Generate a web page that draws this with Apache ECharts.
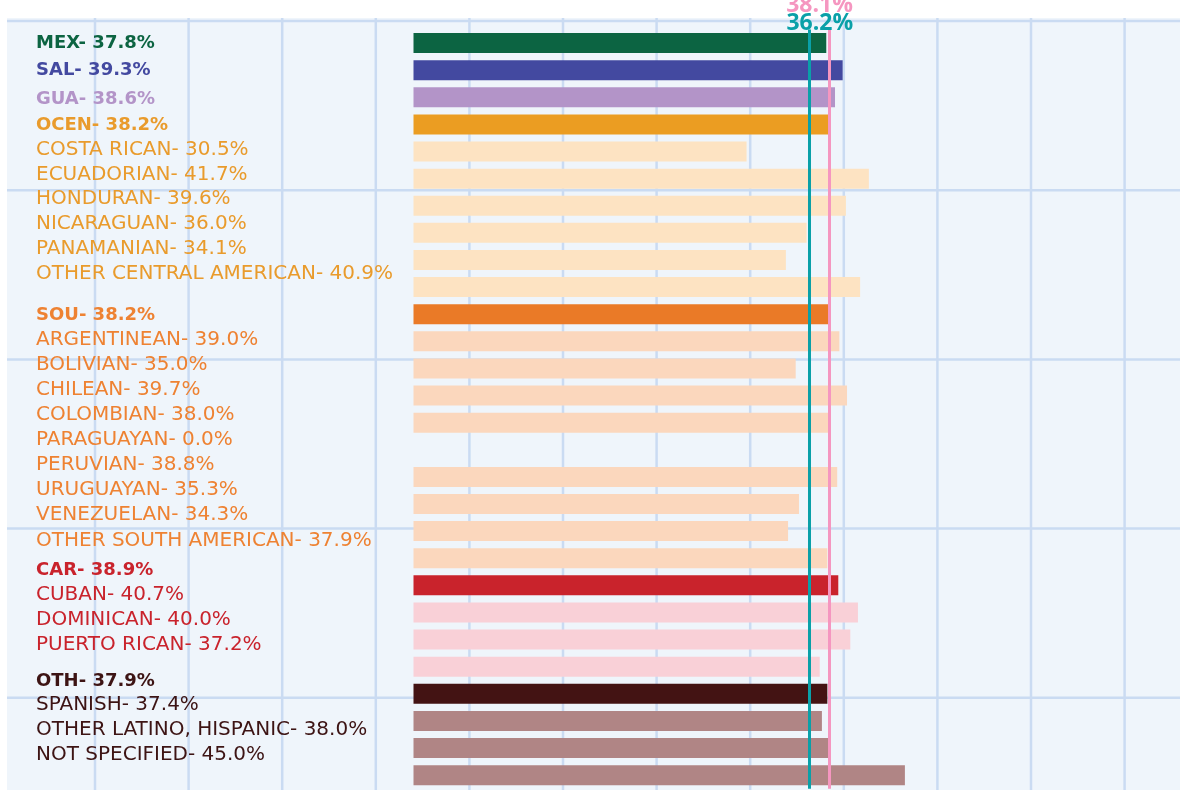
<!DOCTYPE html>
<html>
<head>
<meta charset="utf-8">
<script src="https://cdn.jsdelivr.net/npm/echarts@6/dist/echarts.min.js"></script>
<style>
html,body{margin:0;padding:0;background:#ffffff;}
#chart{width:1180px;height:790px;}
</style>
</head>
<body>
<div id="chart"></div>
<script>
// ---- data ----
const categories = ['MEX','SAL','GUA','OCEN','COSTA RICAN','ECUADORIAN','HONDURAN','NICARAGUAN','PANAMANIAN','OTHER CENTRAL AMERICAN',
  'SOU','ARGENTINEAN','BOLIVIAN','CHILEAN','COLOMBIAN','PARAGUAYAN','PERUVIAN','URUGUAYAN','VENEZUELAN','OTHER SOUTH AMERICAN',
  'CAR','CUBAN','DOMINICAN','PUERTO RICAN','OTH','SPANISH','OTHER LATINO, HISPANIC','NOT SPECIFIED'];
const values = [37.8,39.3,38.6,38.2,30.5,41.7,39.6,36.0,34.1,40.9,
  38.2,39.0,35.0,39.7,38.0,0.0,38.8,35.3,34.3,37.9,
  38.9,40.7,40.0,37.2,37.9,37.4,38.0,45.0];
const groups = ['mex','sal','gua','cen','cen','cen','cen','cen','cen','cen',
  'sou','sou','sou','sou','sou','sou','sou','sou','sou','sou',
  'car','car','car','car','oth','oth','oth','oth'];
const headers = ['MEX','SAL','GUA','OCEN','SOU','CAR','OTH'];
const refLines = [36.2, 38.1];

// ---- styles / layout ----
const headBar = {mex:'#0c6442',sal:'#4349a0',gua:'#b394c8',cen:'#eb9d22',sou:'#ea7a27',car:'#c9232c',oth:'#431313'};
const subBar  = {cen:'#fde3c2',sou:'#fbd7bd',car:'#f9d0d7',oth:'#b08585'};
const textCol = {mex:'#0c6442',sal:'#4349a0',gua:'#b394c8',cen:'#e99b2c',sou:'#ee8232',car:'#c9232c',oth:'#3d1414'};
const refCol = ['#0aa0a8','#f596c0'];
const refLabelDX = [11, -10];
const refLabelY = [23, 5];
const labelY = [43,70,99,125,150,175,199,224,249,274,315,340,365,390,415,440,465,490,515,541,570,595,620,645,681,705,730,755];
const FONT = '"DejaVu Sans"';

const chart = echarts.init(document.getElementById('chart'));

const graphics = [];
// paper
graphics.push({type:'rect', z:-10, shape:{x:7,y:18,width:1173,height:772}, style:{fill:'#eff5fb'}, silent:true});
for (let x = 95; x < 1180; x += 93.6) {
  graphics.push({type:'line', z:-9, shape:{x1:x,y1:18,x2:x,y2:790}, style:{stroke:'#cadbf2',lineWidth:2.5}, silent:true});
}
for (let y = 21; y < 790; y += 169.2) {
  graphics.push({type:'line', z:-9, shape:{x1:7,y1:y,x2:1180,y2:y}, style:{stroke:'#cadbf2',lineWidth:2.5}, silent:true});
}
// labels
categories.forEach((c, i) => {
  const isHead = headers.indexOf(c) >= 0;
  graphics.push({
    type:'text', x:36, y:labelY[i], z:10,
    style:{
      text: c + '- ' + values[i].toFixed(1) + '%',
      fill: textCol[groups[i]],
      verticalAlign:'middle',
      font: (isHead ? '700 18px ' : '400 20px ') + FONT
    }
  });
});

const barData = values.map((v, i) => {
  const c = categories[i], g = groups[i];
  const isHead = headers.indexOf(c) >= 0;
  return {value: v, itemStyle:{color: isHead ? headBar[g] : subBar[g]}};
});

chart.setOption({
  animation:false,
  backgroundColor:'#ffffff',
  graphic: graphics,
  grid:{left:413.5, width:764.4, top:29.5, height:759.2},
  xAxis:{type:'value', min:0, max:70, show:false},
  yAxis:{type:'category', data:categories, inverse:true, show:false},
  series:[{
    type:'bar', data:barData, barWidth:20, z:3,
    markLine:{
      symbol:'none', silent:true, animation:false,
      label:{show:false},
      data: refLines.map((v, k) => ({
        xAxis: v,
        lineStyle:{color:refCol[k], width:3, type:'solid'}
      }))
    }
  }]
});

// reference labels positioned from the axis scale
const refGraphics = refLines.map((v, k) => {
  const px = chart.convertToPixel({xAxisIndex:0}, v);
  return {
    type:'text', x: px + refLabelDX[k], y: refLabelY[k], z:20,
    style:{text: v.toFixed(1) + '%', fill: refCol[k], align:'center', verticalAlign:'middle',
           font:'700 23px "Open Sans"'}
  };
});
chart.setOption({graphic: graphics.concat(refGraphics)});
</script>
</body>
</html>
